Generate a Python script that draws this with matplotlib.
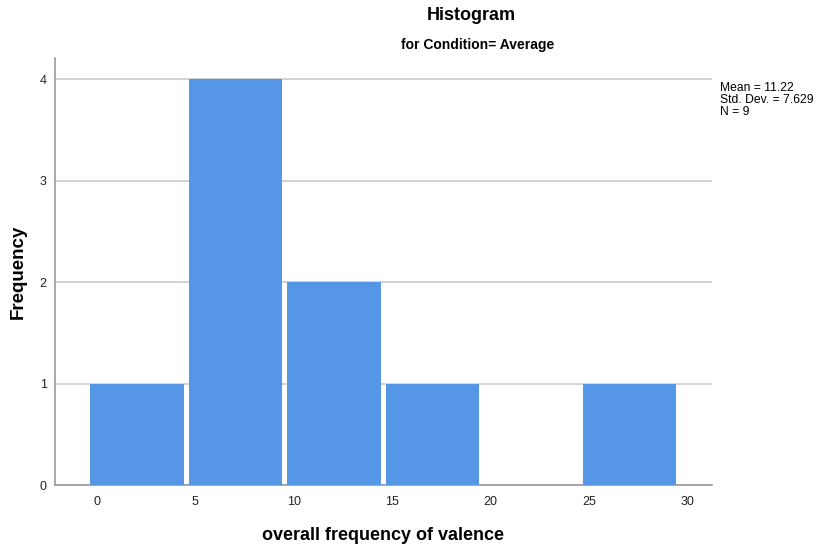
import matplotlib
matplotlib.use('Agg')
import matplotlib.pyplot as plt

# histogram bins (width 5) and counts
bin_starts = [-0.45, 4.55, 9.55, 14.55, 19.55, 24.55]
counts = [1, 4, 2, 1, 0, 1]
bin_width = 5
x_ticks = [0, 5, 10, 15, 20, 25, 30]
y_ticks = [0, 1, 2, 3, 4]
stats_lines = ['Mean = 11.22', 'Std. Dev. = 7.629', 'N = 9']

plt.rcParams['font.family'] = ['Liberation Sans', 'DejaVu Sans']

fig = plt.figure(figsize=(8.17, 5.49), dpi=100)
ax = fig.add_axes([55 / 817, 64 / 549, 657 / 817, 427 / 549])

# white gap between neighbouring bars, as in the SPSS output
gap = 0.25
ax.bar([b + gap / 2 for b in bin_starts], counts, width=bin_width - gap, align='edge',
       color='#5596e6', linewidth=0, zorder=3)

ax.set_xlim(-2.12, 31.23)
ax.set_ylim(0, 4.21)
ax.set_xticks(x_ticks)
ax.set_yticks(y_ticks)
ax.tick_params(length=0, labelsize=9, colors='#222222')
ax.tick_params(axis='x', pad=8)
ax.tick_params(axis='y', pad=6)
ax.grid(axis='y', color='#cccccc', linewidth=1.2, zorder=0)

for side in ['top', 'right']:
    ax.spines[side].set_visible(False)
for side in ['left', 'bottom']:
    ax.spines[side].set_color('#999999')
    ax.spines[side].set_linewidth(1.2)

ax.set_xlabel('overall frequency of valence', fontsize=13, fontweight='bold')
ax.set_ylabel('Frequency', fontsize=13.5, fontweight='bold')
ax.xaxis.set_label_coords(328.5 / 657, -42 / 427)
ax.yaxis.set_label_coords(-28 / 657, 0.5)

fig.text(471 / 817, 1 - 15 / 549, 'Histogram', ha='center', va='center',
         fontsize=13, fontweight='bold')
fig.text(478 / 817, 1 - 45 / 549, 'for Condition= Average', ha='center', va='center',
         fontsize=10, fontweight='bold')
fig.text(720 / 817, 1 - 82 / 549, '\n'.join(stats_lines), ha='left', va='top',
         fontsize=8.7, linespacing=1.0)

plt.savefig('out.png', dpi=100)
